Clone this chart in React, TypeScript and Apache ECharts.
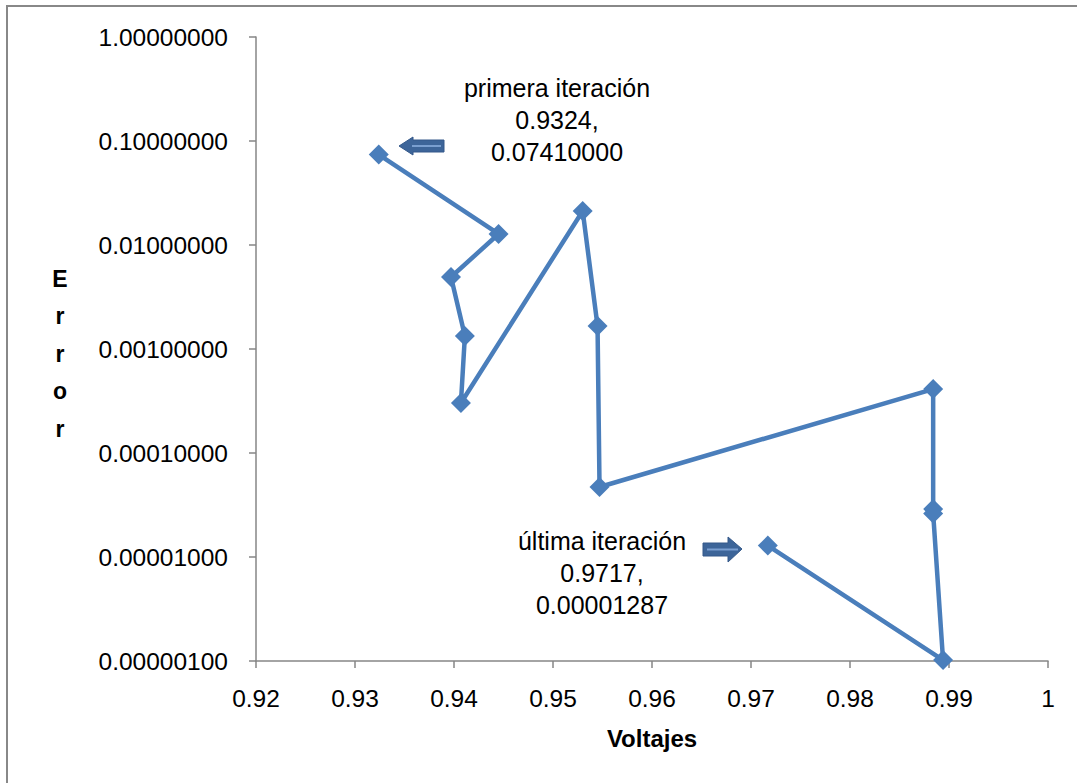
import React, { useEffect, useRef } from "react";
import * as echarts from "echarts";

const voltajes: number[] = [0.9324, 0.9445, 0.9397, 0.9411, 0.9407, 0.9530, 0.9545, 0.9547, 0.9884, 0.9884, 0.9884, 0.9894, 0.9717];
const errores: number[] = [0.0741, 0.01276, 0.00492, 0.001334, 0.000303, 0.02123, 0.001664, 0.0000471, 0.000412, 0.000029, 0.0000262, 0.00000102, 0.00001287];
const xTicks: number[] = [0.92, 0.93, 0.94, 0.95, 0.96, 0.97, 0.98, 0.99, 1];
const annotationFirst: string[] = ["primera iteración", "0.9324,", "0.07410000"];
const annotationLast: string[] = ["última iteración", "0.9717,", "0.00001287"];
const xTitle = "Voltajes";
const yTitle = "Error";

const FONT = "'Liberation Sans', Arial, sans-serif";

export default function App() {
  const ref = useRef<HTMLDivElement>(null);
  useEffect(() => {
    if (!ref.current) return;
    const chart = echarts.init(ref.current, undefined, { renderer: "svg" });
    const data = voltajes.map((v, i) => [v, errores[i]]);
    const axisColor = "#868686";
    chart.setOption({
      animation: false,
      backgroundColor: "#ffffff",
      grid: { left: 256, top: 37, right: 29, bottom: 122, containLabel: false },
      xAxis: {
        type: "value",
        min: xTicks[0],
        max: xTicks[xTicks.length - 1],
        interval: 0.01,
        splitLine: { show: false },
        axisLine: { lineStyle: { color: axisColor, width: 1.5 } },
        axisTick: { show: true, length: 7, lineStyle: { color: axisColor, width: 1.5 } },
        axisLabel: {
          color: "#000",
          fontSize: 24.5,
          fontFamily: FONT,
          margin: 25,
          formatter: (v: number) => String(Number(v.toFixed(2))),
        },
        name: xTitle,
        nameLocation: "middle",
        nameGap: 65,
        nameTextStyle: { color: "#000", fontSize: 24, fontWeight: "bold", fontFamily: FONT },
      },
      yAxis: {
        type: "log",
        logBase: 10,
        min: 0.000001,
        max: 1,
        splitLine: { show: false },
        axisLine: { show: true, lineStyle: { color: axisColor, width: 1.5 } },
        axisTick: { show: true, length: 7, lineStyle: { color: axisColor, width: 1.5 } },
        axisLabel: {
          color: "#000",
          fontSize: 24.5,
          fontFamily: FONT,
          margin: 28,
          formatter: (v: number) => v.toFixed(8),
        },
      },
      series: [
        {
          type: "line",
          data,
          symbol: "diamond",
          symbolSize: 20,
          lineStyle: { color: "#4a7ebb", width: 4.5 },
          itemStyle: { color: "#4a7ebb" },
          z: 3,
        },
      ],
      graphic: [
        {
          type: "rect",
          shape: { x: 7, y: 6, width: 1200, height: 1000 },
          style: { fill: "none", stroke: "#888888", lineWidth: 2 },
          silent: true,
        },
        {
          type: "text",
          x: 60,
          y: 260,
          style: {
            text: yTitle.split("").join("\n"),
            fontSize: 23,
            fontWeight: "bold",
            fontFamily: FONT,
            fill: "#000",
            align: "center",
            verticalAlign: "top",
            lineHeight: 37.5,
          },
        },
        {
          type: "text",
          x: 557,
          y: 72,
          style: {
            text: annotationFirst.join("\n"),
            fontSize: 25,
            fontFamily: FONT,
            fill: "#000",
            align: "center",
            verticalAlign: "top",
            lineHeight: 32,
          },
        },
        {
          type: "text",
          x: 602,
          y: 525,
          style: {
            text: annotationLast.join("\n"),
            fontSize: 25,
            fontFamily: FONT,
            fill: "#000",
            align: "center",
            verticalAlign: "top",
            lineHeight: 32,
          },
        },
        {
          type: "polygon",
          shape: {
            points: [
              [399, 146],
              [413, 137],
              [413, 140],
              [444, 140],
              [444, 152],
              [413, 152],
              [413, 155],
            ],
          },
          style: { fill: "#3d6599", stroke: "#35598a", lineWidth: 1 },
        },
        {
          type: "line",
          shape: { x1: 412, y1: 146, x2: 441, y2: 146 },
          style: { stroke: "#7a9fd0", lineWidth: 2 },
        },
        {
          type: "polygon",
          shape: {
            points: [
              [742, 549],
              [728, 537],
              [728, 543],
              [703, 543],
              [703, 556],
              [728, 556],
              [728, 562],
            ],
          },
          style: { fill: "#3d6599", stroke: "#35598a", lineWidth: 1 },
        },
        {
          type: "line",
          shape: { x1: 707, y1: 549.5, x2: 738, y2: 549.5 },
          style: { stroke: "#7a9fd0", lineWidth: 2 },
        },
      ],
    });
    return () => chart.dispose();
  }, []);
  return (
    <div
      ref={ref}
      style={{ position: "fixed", left: 0, top: 0, width: 1077, height: 783, background: "#fff" }}
    />
  );
}
